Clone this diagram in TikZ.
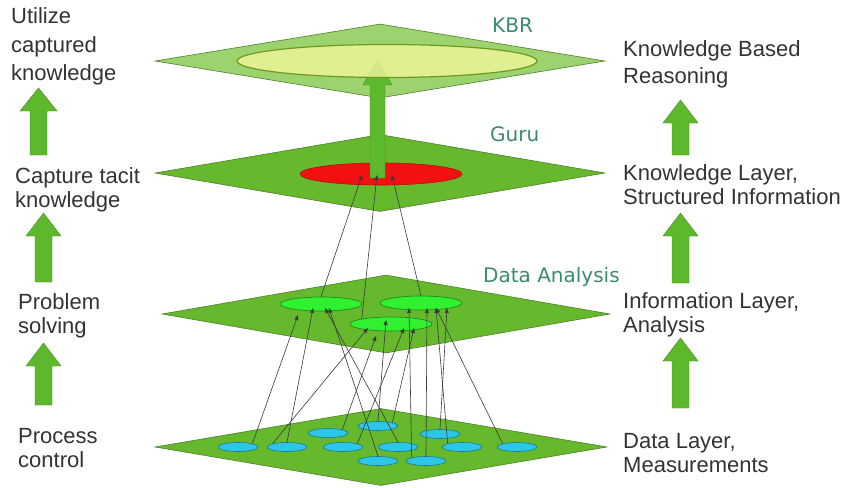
\documentclass[tikz,border=0pt]{standalone}
\usepackage{fontspec}
\setmainfont{Liberation Sans}
\newfontfamily\layerfont{DejaVu Sans}
\usetikzlibrary{arrows.meta,shapes.geometric}

\definecolor{planegreen}{HTML}{66B82C}
\definecolor{planeedge}{HTML}{4F7F2A}
\definecolor{kbrplane}{HTML}{9CD36E}
\definecolor{kbrfill}{HTML}{F0F69C}
\definecolor{kbredge}{HTML}{6E9A1E}
\definecolor{gurured}{HTML}{F21010}
\definecolor{infogreen}{HTML}{30F030}
\definecolor{infoedge}{HTML}{1F8A1F}
\definecolor{datacyan}{HTML}{2BC6E8}
\definecolor{dataedge}{HTML}{1D7A8A}
\definecolor{arrowgreen}{HTML}{5DB82B}
\definecolor{layertext}{HTML}{3B8C6C}
\definecolor{sidetext}{HTML}{333333}
\definecolor{linkgray}{HTML}{3A3A3A}

% upward block arrow: x, tip y, bottom y, shaft half width, head half width, head length
\newcommand\blockup[6]{%
  \fill[sidearrow] (#1-#4,#3) -- (#1-#4,#2+#6) -- (#1-#5,#2+#6) -- (#1,#2)
    -- (#1+#5,#2+#6) -- (#1+#4,#2+#6) -- (#1+#4,#3) -- cycle;}

\begin{document}
\begin{tikzpicture}[x=1pt,y=-1pt,
  plane/.style={diamond,inner sep=0pt,fill=planegreen,draw=planeedge,line width=0.6pt},
  dataell/.style={ellipse,inner sep=0pt,minimum width=40pt,minimum height=9pt,
    fill=datacyan,draw=dataedge,line width=0.6pt},
  infoell/.style={ellipse,inner sep=0pt,minimum width=82pt,minimum height=14pt,
    fill=infogreen,draw=infoedge,line width=0.7pt},
  link/.style={draw=linkgray,line width=0.6pt,-{Triangle[length=5pt,width=4pt]}},
  sidearrow/.style={fill=arrowgreen,draw=arrowgreen!75!black,line width=0.4pt},
  sidelabel/.style={font=\fontsize{22}{24}\selectfont,text=sidetext,inner sep=0pt,
    align=left,anchor=base west},
  widelabel/.style={sidelabel,font=\fontsize{22}{28}\selectfont},
  layerlabel/.style={font=\layerfont\fontsize{20}{24}\selectfont,text=layertext,
    inner sep=0pt,anchor=base west}]

\fill[white] (0,0) rectangle (845,487);
\useasboundingbox (0,0) rectangle (845,487);

% ---- data layer
\node[plane,minimum width=452pt,minimum height=77pt] (data) at (381,447) {};
\node[dataell] (d1) at (238,447) {};
\node[dataell] (d2) at (287,447) {};
\node[dataell] (d3) at (328,433) {};
\node[dataell] (d4) at (378,426) {};
\node[dataell] (d5) at (343,447) {};
\node[dataell] (d6) at (398,447) {};
\node[dataell] (d7) at (440,434) {};
\node[dataell] (d8) at (462,447) {};
\node[dataell] (d9) at (517,447) {};
\node[dataell] (d10) at (378,461) {};
\node[dataell] (d11) at (426,461) {};

% ---- information layer
\node[plane,minimum width=448pt,minimum height=78pt] (info) at (386,314) {};
\node[infoell] (e1) at (321,304) {};
\node[infoell] (e2) at (421,303) {};
\node[infoell] (e3) at (391,324) {};

% ---- knowledge layer
\node[plane,minimum width=450pt,minimum height=77pt] (guru) at (380,173) {};
\node[ellipse,inner sep=0pt,minimum width=162pt,minimum height=22pt,
  fill=gurured,draw=gurured!75!black,line width=0.6pt] (red) at (381,174) {};

% ---- reasoning layer
\node[plane,fill=kbrplane,minimum width=450pt,minimum height=74pt] (kbr) at (380,61) {};

% block arrow from the knowledge layer up into the reasoning layer
\blockup{377.5}{60}{178}{7.5}{14.5}{25}
\node[ellipse,inner sep=0pt,minimum width=300pt,minimum height=33pt,
  fill=kbrfill,fill opacity=0.8,draw=kbredge,line width=1.2pt] (kbell) at (387,61) {};

% arrow end points on the upper layers
\coordinate (t1) at (298,315);
\coordinate (t2) at (313,308);
\coordinate (t3) at (325,308);
\coordinate (t4) at (329,308);
\coordinate (t5) at (409,308);
\coordinate (t6) at (427,308);
\coordinate (t7) at (436,308);
\coordinate (t8) at (447,308);
\coordinate (t9) at (368,328);
\coordinate (t10) at (376,336);
\coordinate (t11) at (386,320);
\coordinate (t12) at (404,328);
\coordinate (t13) at (414,328);
\coordinate (g1) at (362,175);
\coordinate (g2) at (377,175);
\coordinate (g3) at (392,175);

% data -> information
\draw[link] (d1.north east) -- (t1);
\draw[link] (d2.north) -- (t2);
\draw[link] (d2.north west) -- (t9);
\draw[link] (d3.north east) -- (t10);
\draw[link] (d4.north) -- (t11);
\draw[link] (d4.north east) -- (t13);
\draw[link] (d5.north east) -- (t12);
\draw[link] (d6.north) -- (t3);
\draw[link] (d10.north) -- (t4);
\draw[link] (d11.north west) -- (t5);
\draw[link] (d11.north) -- (t6);
\draw[link] (d7.north) -- (t8);
\draw[link] (d8.north west) -- (t7);
\draw[link] (d9.north west) -- (t7);

% information -> knowledge
\draw[link] (e1.north) -- (g1);
\draw[link] (e3.north west) -- (g2);
\draw[link] (e2.north) -- (g3);

% layer names
\node[layerlabel] (lkbr) at (492,33) {KBR};
\node[layerlabel] (lguru) at (490,141) {Guru};
\node[layerlabel] (lda) at (483,282) {Data Analysis};

% left column (node base = baseline of the last line)
\node[widelabel] (lutil) at (11,80) {Utilize\\captured\\knowledge};
\node[sidelabel] (lcap) at (15,207) {Capture tacit\\knowledge};
\node[sidelabel] (lprob) at (18,333) {Problem\\solving};
\node[sidelabel] (lproc) at (18,467) {Process\\control};
\blockup{38.5}{88}{155}{8.5}{18.5}{23}
\blockup{43.5}{213}{282}{8.5}{17.5}{23}
\blockup{43.5}{343}{405}{8.5}{17.5}{23}

% right column
\node[widelabel,font=\fontsize{22}{27}\selectfont] (rkbr) at (623,83) {Knowledge Based\\Reasoning};
\node[sidelabel] (rknow) at (623,204) {Knowledge Layer,\\Structured Information};
\node[sidelabel] (rinfo) at (623,332) {Information Layer,\\Analysis};
\node[sidelabel] (rdata) at (623,472) {Data Layer,\\Measurements};
\blockup{680.5}{100}{155}{8.5}{17.5}{23}
\blockup{680.5}{213}{283}{8.5}{17.5}{23}
\blockup{680.5}{338}{408}{8.5}{17.5}{23}
\end{tikzpicture}
\end{document}
